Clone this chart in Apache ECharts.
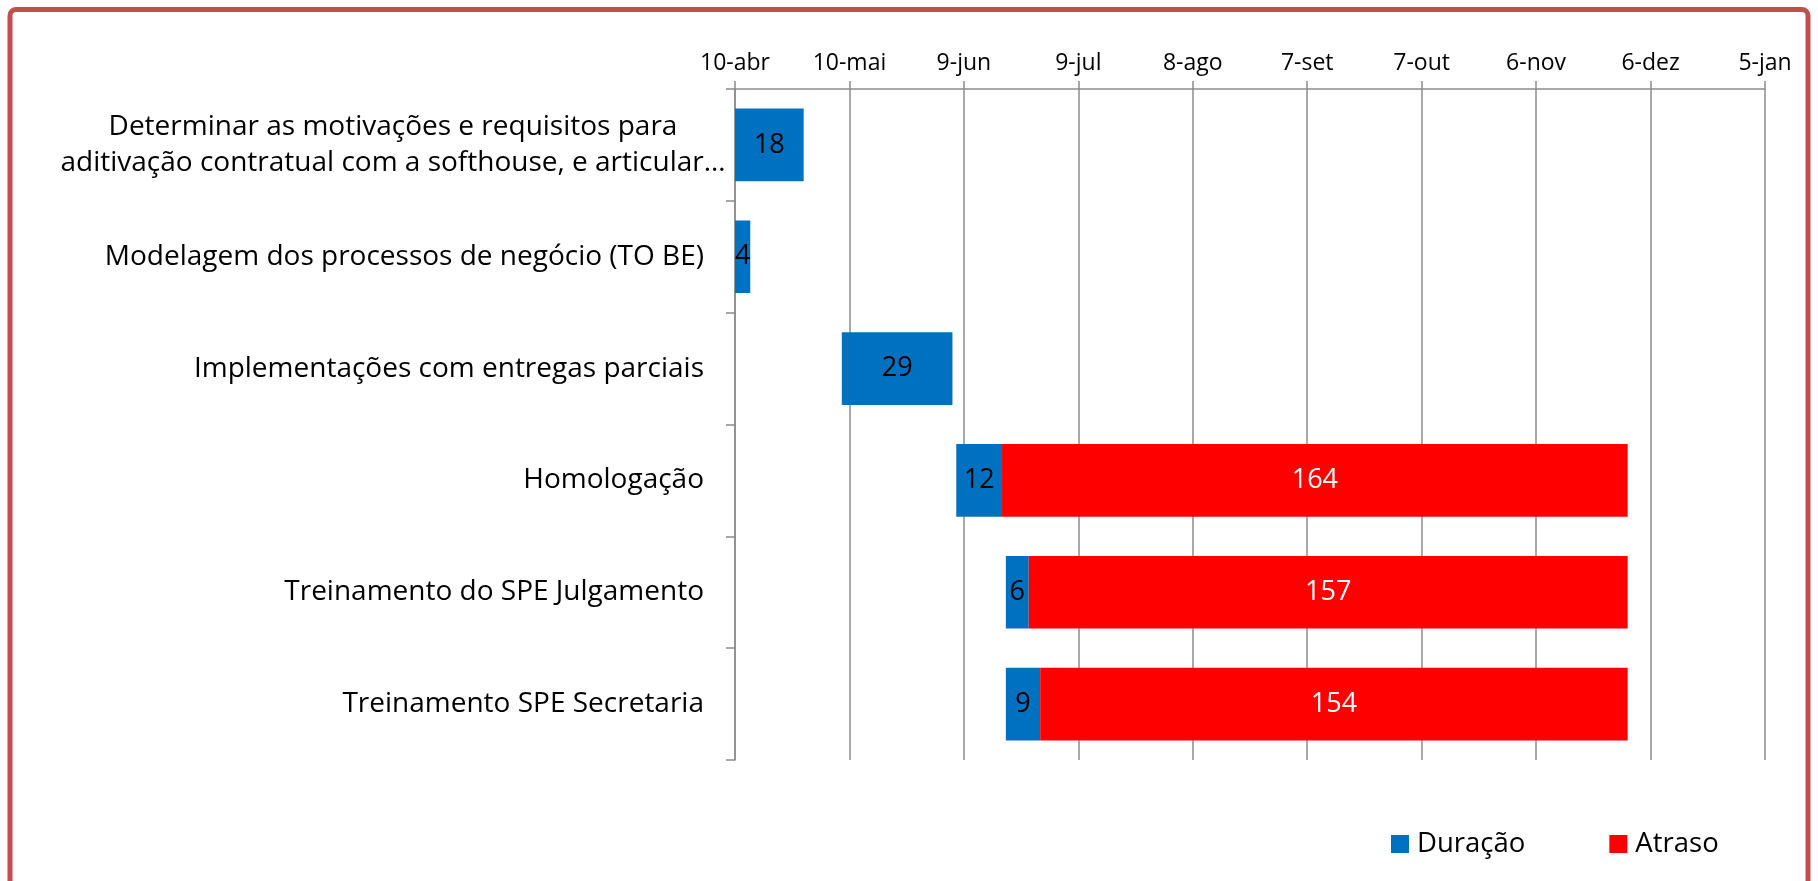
<!DOCTYPE html>
<html>
<head>
<meta charset="utf-8">
<script src="https://cdn.jsdelivr.net/npm/echarts@6/dist/echarts.min.js"></script>
<style>
    html, body { margin: 0; padding: 0; background: #fff; }
    #chart { width: 1818px; height: 881px; }
</style>
</head>
<body>
<div id="chart"></div>
<script>
// tasks, top to bottom
const categories = [
    'Determinar as motivações e requisitos para\naditivação contratual com a softhouse, e articular…',
    'Modelagem dos processos de negócio (TO BE)',
    'Implementações com entregas parciais',
    'Homologação',
    'Treinamento do SPE Julgamento',
    'Treinamento SPE Secretaria'
]
// start, in days after 10-abr
const startDays = [0, 0, 28, 58, 71, 71]
const duracao = [18, 4, 29, 12, 6, 9]
const atraso = [null, null, null, 164, 157, 154]
const tickLabels = ['10-abr', '10-mai', '9-jun', '9-jul', '8-ago', '7-set', '7-out', '6-nov', '6-dez', '5-jan']

const FONT = 'Open Sans'
const GRID_COLOR = '#8c8c8c'

const chart = echarts.init(document.getElementById('chart'), null, { renderer: 'canvas' })

chart.setOption({
    animation: false,
    backgroundColor: '#fff',
    textStyle: { fontFamily: FONT },
    graphic: [{
        type: 'rect',
        shape: { x: 10, y: 9.5, width: 1798, height: 1000, r: 6 },
        style: { fill: 'none', stroke: '#C0504D', lineWidth: 5 },
        silent: true
    }],
    grid: {
        top: 89,
        bottom: 121,
        left: 735,
        right: 53
    },
    legend: {
        data: ['Duração', 'Atraso'],
        left: 1386,
        top: 825,
        itemWidth: 18,
        itemHeight: 18,
        itemGap: 84,
        icon: 'rect',
        textStyle: { fontFamily: FONT, fontSize: 27.5, color: '#000', padding: [0, 0, 0, 3] }
    },
    xAxis: {
        type: 'value',
        position: 'top',
        min: 0,
        max: 270,
        interval: 30,
        axisLine: { show: true, lineStyle: { color: GRID_COLOR, width: 1.5 } },
        axisTick: { show: true, length: 8, lineStyle: { color: GRID_COLOR, width: 1.5 } },
        splitLine: { show: true, lineStyle: { color: GRID_COLOR, width: 1.5 } },
        axisLabel: {
            color: '#000',
            fontFamily: FONT,
            fontSize: 23,
            margin: 14,
            formatter: v => tickLabels[Math.round(v / 30)]
        }
    },
    yAxis: {
        type: 'category',
        inverse: true,
        data: categories,
        axisLine: { show: true, lineStyle: { color: GRID_COLOR, width: 1.5 } },
        axisTick: { show: true, length: 9, lineStyle: { color: GRID_COLOR, width: 1.5 } },
        axisLabel: {
            color: '#000',
            fontFamily: FONT,
            margin: 10,
            formatter: v => {
                if (v.indexOf('\n') >= 0) {
                    return v.split('\n').map(l => '{w|' + l + '}').join('\n')
                }
                return '{n|' + v + '}'
            },
            rich: {
                w: { fontFamily: FONT, fontSize: 28, width: 664, align: 'center', lineHeight: 36, color: '#000' },
                n: { fontFamily: FONT, fontSize: 28, padding: [0, 21, 0, 0], color: '#000' }
            }
        }
    },
    series: [
        {
            name: 'Início',
            type: 'bar',
            stack: 'gantt',
            silent: true,
            barCategoryGap: '35%',
            itemStyle: { color: 'transparent' },
            data: startDays
        },
        {
            name: 'Duração',
            type: 'bar',
            stack: 'gantt',
            itemStyle: { color: '#0070C0' },
            label: { show: true, position: 'inside', color: '#000', fontFamily: FONT, fontSize: 27 },
            data: duracao
        },
        {
            name: 'Atraso',
            type: 'bar',
            stack: 'gantt',
            itemStyle: { color: '#FF0000' },
            label: { show: true, position: 'inside', color: '#fff', fontFamily: FONT, fontSize: 27 },
            data: atraso
        }
    ]
})

window.addEventListener('resize', () => {
    if (chart) chart.resize()
})
</script>
</body>
</html>
